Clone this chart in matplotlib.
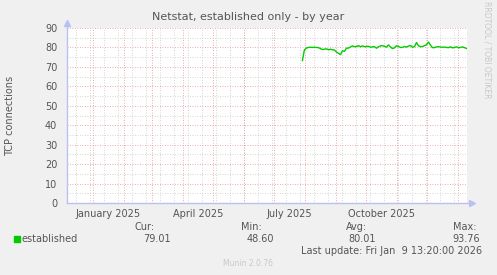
import matplotlib
matplotlib.use("Agg")
import matplotlib.pyplot as plt
import matplotlib.dates as mdates
from matplotlib.patches import Rectangle
import pandas as pd
import numpy as np

# ---- data ----
series_start = "2025-07-29"
series_step_days = 2
established = [73.3, 78.8, 79.7, 80.0, 80.1, 80.0, 80.1, 80.0, 79.9, 79.4,
               78.9, 79.1, 79.3, 78.8, 79.1, 78.8, 78.7, 77.6, 77.0, 76.3,
               78.3, 78.0, 79.6, 79.7, 80.2, 80.8, 80.4, 80.5, 80.9, 80.4,
               80.8, 80.4, 80.5, 80.6, 80.1, 80.3, 80.4, 79.6, 80.3, 80.8,
               80.9, 80.6, 80.2, 81.3, 80.3, 79.4, 79.8, 80.9, 80.5, 80.0,
               80.0, 80.5, 80.2, 80.7, 81.0, 80.1, 80.4, 82.5, 80.9, 80.4,
               80.5, 80.9, 81.4, 82.8, 81.2, 79.9, 79.9, 80.3, 80.4, 80.2,
               80.1, 80.2, 80.0, 79.9, 80.3, 79.8, 80.0, 80.3, 79.8, 80.0,
               80.3, 79.9, 79.5]
x_start = "2024-12-05 13:20"
x_end = "2026-01-09 13:20"
y_ticks = [0, 10, 20, 30, 40, 50, 60, 70, 80, 90]
x_label_dates = ["2025-01-16", "2025-04-16", "2025-07-16", "2025-10-16"]
x_labels = ["January 2025", "April 2025", "July 2025", "October 2025"]
title = "Netstat, established only - by year"
y_title = "TCP connections"
legend_name = "established"
stat_labels = ["Cur:", "Min:", "Avg:", "Max:"]
stat_values = ["79.01", "48.60", "80.01", "93.76"]
last_update = "Last update: Fri Jan  9 13:20:00 2026"
footer = "Munin 2.0.76"
watermark = "RRDTOOL / TOBI OETIKER"

# ---- figure ----
W, H = 497, 275
fig = plt.figure(figsize=(W / 100, H / 100), dpi=100)
fig.patch.set_facecolor("#F0F0F0")

def fx(px):
    return px / W

def fy(py):
    return 1 - py / H

L, R, T, B = 67, 467, 28, 203
ax = fig.add_axes([fx(L), fy(B), (R - L) / W, (B - T) / H])
ax.set_facecolor("white")

dates = pd.date_range(series_start, periods=len(established), freq=f"{series_step_days}D")
ax.plot(dates, established, color="#00CC00", lw=1.0, zorder=5)

xmin, xmax = pd.Timestamp(x_start), pd.Timestamp(x_end)
ax.set_xlim(xmin, xmax)
ax.set_ylim(0, 90)

# grids
major_months = pd.date_range("2025-01-01", "2026-01-01", freq="MS")
minor_days = pd.date_range("2024-12-15", x_end, freq="14D")
for d in minor_days:
    ax.axvline(d, color="#C8C8C8", lw=0.6, ls=(0, (1, 2)), zorder=1)
for v in range(5, 90, 10):
    ax.axhline(v, color="#C8C8C8", lw=0.6, ls=(0, (1, 2)), zorder=1)
for d in major_months:
    ax.axvline(d, color="#E89090", lw=0.6, ls=(0, (1, 2)), zorder=2)
for v in y_ticks[1:]:
    ax.axhline(v, color="#E89090", lw=0.6, ls=(0, (1, 2)), zorder=2)

for s in ax.spines.values():
    s.set_visible(False)

ax.set_yticks(y_ticks)
ax.set_yticklabels([str(v) for v in y_ticks])
ax.set_xticks([pd.Timestamp(d) for d in x_label_dates])
ax.set_xticklabels(x_labels)
ax.tick_params(axis="both", length=0, labelsize=7, colors="#555555")
ax.tick_params(axis="y", pad=7)
ax.tick_params(axis="x", pad=4)

# axis lines with arrows
axis_col = "#B8C0F4"
ax.plot([0, 0], [0, 1.03], transform=ax.transAxes, color=axis_col, lw=1, clip_on=False, zorder=6)
ax.plot([0, 1.012], [0, 0], transform=ax.transAxes, color=axis_col, lw=1, clip_on=False, zorder=6)
ax.plot([0], [1.03], marker="^", ms=4, color=axis_col, transform=ax.transAxes, clip_on=False, zorder=6)
ax.plot([1.012], [0], marker=">", ms=4, color=axis_col, transform=ax.transAxes, clip_on=False, zorder=6)

tc = "#555555"
fig.text(fx(248), fy(20), title, ha="center", va="baseline", fontsize=8, color=tc)
fig.text(fx(10), fy(116), y_title, ha="center", va="center", rotation=90, fontsize=7, color=tc)
fig.text(fx(487), fy(50), watermark, ha="center", va="center", rotation=270, fontsize=5.5, color="#C8C8C8")

# legend
fig.add_artist(Rectangle((fx(14), fy(242)), 6 / W, 6 / H, transform=fig.transFigure, color="#00CC00"))
fig.text(fx(21), fy(239), legend_name, ha="left", va="center", fontsize=7, color=tc)
label_right = [155, 262, 367, 477]
value_right = [171, 274, 376, 480]
for lab, val, lr, vr in zip(stat_labels, stat_values, label_right, value_right):
    fig.text(fx(lr), fy(227), lab, ha="right", va="center", fontsize=7, color=tc)
    fig.text(fx(vr), fy(239), val, ha="right", va="center", fontsize=7, color=tc)
fig.text(fx(482), fy(251), last_update, ha="right", va="center", fontsize=7, color=tc)
fig.text(fx(248), fy(263), footer, ha="center", va="center", fontsize=5.5, color="#C8C8C8")

fig.savefig("out.png", dpi=100, facecolor=fig.get_facecolor())
